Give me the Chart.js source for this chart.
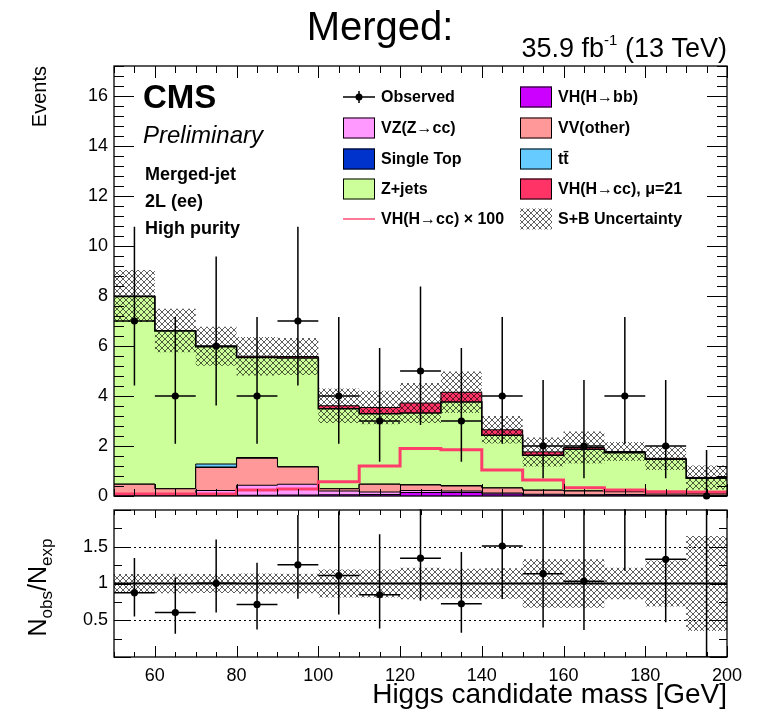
<!DOCTYPE html>
<html>
<head>
<meta charset="utf-8">
<script src="https://cdn.jsdelivr.net/npm/chart.js@4.4.0/dist/chart.umd.min.js"></script>
<style>
  html, body { margin: 0; padding: 0; background: #fff; }
  #wrap { position: relative; width: 764px; height: 712px; }
  #wrap canvas { position: absolute; left: 0; }
  #mainCanvas { top: 0; }
  #ratioCanvas { top: 503px; }
</style>
</head>
<body>
<div id="wrap">
  <canvas id="mainCanvas" width="764" height="503"></canvas>
  <canvas id="ratioCanvas" width="764" height="209"></canvas>
</div>
<script>
// Higgs candidate mass bins [GeV]
const binEdges = [50, 60, 70, 80, 90, 100, 110, 120, 130, 140, 150, 160, 170, 180, 190, 200];

// data, with asymmetric Poisson errors
const observed = [7, 4, 6, 4, 7, 4, 3, 5, 3, 4, 2, 2, 4, 2, 0];
const obsErrLo = [2.58, 1.91, 2.38, 1.91, 2.58, 1.91, 1.63, 2.16, 1.63, 1.91, 1.29, 1.29, 1.91, 1.29, 0];
const obsErrHi = [3.77, 3.16, 3.58, 3.16, 3.77, 3.16, 2.92, 3.38, 2.92, 3.16, 2.64, 2.64, 3.16, 2.64, 1.84];

// backgrounds, bottom of the stack first
const vhbb      = [0.01, 0.01, 0.02, 0.03, 0.04, 0.05, 0.06, 0.14, 0.14, 0.08, 0.04, 0.03, 0.04, 0.03, 0.01];
const vzcc      = [0.05, 0.04, 0.20, 0.40, 0.43, 0.15, 0.10, 0.08, 0.06, 0.04, 0.03, 0.02, 0.02, 0.01, 0.01];
const vvOther   = [0.41, 0.24, 0.92, 1.08, 0.69, 0.09, 0.31, 0.22, 0.20, 0.20, 0.16, 0.15, 0.11, 0.08, 0.06];
const singleTop = [0, 0, 0.02, 0.01, 0, 0, 0, 0, 0, 0, 0, 0, 0, 0, 0];
const ttbar     = [0, 0, 0.12, 0.02, 0.01, 0, 0, 0.01, 0.02, 0, 0, 0, 0, 0, 0];
const zjets     = [7.51, 6.31, 4.69, 4.00, 4.35, 3.20, 2.82, 2.87, 3.34, 2.11, 1.40, 1.67, 1.56, 1.35, 0.63];

// SM VH(H->cc) yield, shown scaled
const vhccSM = [0.0008, 0.0008, 0.0008, 0.0024, 0.0028, 0.0057, 0.012, 0.019, 0.0185, 0.0104, 0.0064, 0.0033, 0.0024, 0.0017, 0.0016];
const muSignal = 21;
const lineScale = 100;

// total S+B uncertainty per bin
const sbUnc = [1.04, 0.87, 0.78, 0.77, 0.74, 0.69, 0.67, 0.80, 0.83, 0.55, 0.58, 0.64, 0.38, 0.47, 0.48];

// axis labels
const yTicksMain = [0, 2, 4, 6, 8, 10, 12, 14, 16];
const yTicksRatio = [0.5, 1, 1.5];
const xTicks = [60, 80, 100, 120, 140, 160, 180, 200];

const FONT = '"Liberation Sans", Arial, Helvetica, sans-serif';

const COLORS = {
  vhbb: '#cc00ff',
  vzcc: '#ff99ff',
  vv: '#ff9999',
  st: '#0033cc',
  tt: '#66ccff',
  zj: '#ccff99',
  sig: '#ff3366',
  sigLine: '#ff3d6a'
};

function makeHatch() {
  const c = document.createElement('canvas');
  c.width = 6; c.height = 6;
  const g = c.getContext('2d');
  g.strokeStyle = 'rgba(0,0,0,0.75)';
  g.lineWidth = 0.85;
  g.beginPath();
  g.moveTo(-1, -1); g.lineTo(7, 7);
  g.moveTo(7, -1); g.lineTo(-1, 7);
  g.stroke();
  return g.createPattern(c, 'repeat');
}
const hatch = makeHatch();

// histogram outline: one point per lower bin edge, closed at the last edge
function stepPoints(vals) {
  const pts = vals.map((v, i) => ({ x: binEdges[i], y: v }));
  pts.push({ x: binEdges[vals.length], y: vals[vals.length - 1] });
  return pts;
}
function centers(vals) {
  return vals.map((v, i) => ({ x: (binEdges[i] + binEdges[i + 1]) / 2, y: v }));
}

const signal21 = vhccSM.map(v => v * muSignal);
const signal100 = vhccSM.map(v => v * lineScale);

const stackDefs = [
  { vals: vhbb, color: COLORS.vhbb },
  { vals: vzcc, color: COLORS.vzcc },
  { vals: vvOther, color: COLORS.vv },
  { vals: singleTop, color: COLORS.st },
  { vals: ttbar, color: COLORS.tt },
  { vals: zjets, color: COLORS.zj },
  { vals: signal21, color: COLORS.sig }
];

let running = new Array(binEdges.length - 1).fill(0);
const stackSets = stackDefs.map((d, k) => {
  running = running.map((r, i) => r + d.vals[i]);
  return {
    type: 'line',
    data: stepPoints(running),
    stepped: true,
    borderColor: '#000',
    borderWidth: k === stackDefs.length - 2 ? 1.6 : 1,
    backgroundColor: d.color,
    fill: k === 0 ? 'origin' : '-1',
    pointRadius: 0,
    order: 10
  };
});
const total = running.slice();

const bandLo = total.map((t, i) => t - sbUnc[i]);
const bandHi = total.map((t, i) => t + sbUnc[i]);
const ratioObs = observed.map((o, i) => o / total[i]);
const ratioLo = obsErrLo.map((e, i) => e / total[i]);
const ratioHi = obsErrHi.map((e, i) => e / total[i]);
const ratioBandLo = total.map((t, i) => 1 - sbUnc[i] / t);
const ratioBandHi = total.map((t, i) => 1 + sbUnc[i] / t);

// ROOT-like frame with inward ticks on all four sides
const rootFrame = {
  id: 'rootFrame',
  afterDraw(chart, args, o) {
    const { ctx, chartArea: a, scales: { x, y } } = chart;
    ctx.save();
    ctx.strokeStyle = '#000';
    ctx.lineWidth = 1;
    ctx.beginPath();
    for (let k = 0; ; k++) {
      const v = x.min + k * o.xMinor;
      if (v > x.max + 1e-9) break;
      const px = Math.round(x.getPixelForValue(v)) + 0.5;
      const major = Math.abs(v / o.xMajor - Math.round(v / o.xMajor)) < 1e-6;
      const lb = major ? o.xMajLen : o.xMinLen;
      const lt = major ? o.xMajLenTop : o.xMinLen;
      ctx.moveTo(px, a.bottom); ctx.lineTo(px, a.bottom - lb);
      ctx.moveTo(px, a.top); ctx.lineTo(px, a.top + lt);
    }
    for (let k = 0; ; k++) {
      const v = y.min + k * o.yMinor;
      if (v > y.max + 1e-9) break;
      const py = Math.round(y.getPixelForValue(v)) + 0.5;
      const major = k % o.yPerMajor === 0;
      const len = major ? o.yMajLen : o.yMinLen;
      ctx.moveTo(a.left, py); ctx.lineTo(a.left + len, py);
      ctx.moveTo(a.right, py); ctx.lineTo(a.right - len, py);
    }
    ctx.stroke();
    ctx.lineWidth = 1.3;
    ctx.strokeRect(a.left, a.top, a.right - a.left, a.bottom - a.top);
    ctx.restore();
  }
};

// vertical Poisson bars and horizontal bin-width bars
const errorBars = {
  id: 'errorBars',
  afterDatasetsDraw(chart) {
    const { ctx, chartArea: a, scales: { x, y } } = chart;
    chart.data.datasets.forEach(ds => {
      if (!ds.errHi) return;
      ctx.save();
      ctx.beginPath();
      ctx.rect(a.left, a.top - 1, a.right - a.left, a.bottom - a.top + 1);
      ctx.clip();
      ctx.strokeStyle = '#000';
      ctx.lineWidth = 1.5;
      ds.data.forEach((p, j) => {
        const px = x.getPixelForValue(p.x);
        const py = y.getPixelForValue(p.y);
        ctx.beginPath();
        ctx.moveTo(px, y.getPixelForValue(p.y - ds.errLo[j]));
        ctx.lineTo(px, y.getPixelForValue(p.y + ds.errHi[j]));
        ctx.moveTo(x.getPixelForValue(binEdges[j]), py);
        ctx.lineTo(x.getPixelForValue(binEdges[j + 1]), py);
        ctx.stroke();
      });
      ctx.restore();
    });
  }
};

// reference lines of the ratio pad
const ratioLines = {
  id: 'ratioLines',
  beforeDatasetsDraw(chart) {
    const { ctx, chartArea: a, scales: { y } } = chart;
    ctx.save();
    ctx.strokeStyle = '#000';
    ctx.lineWidth = 1;
    ctx.setLineDash([2, 3]);
    [0.5, 1.5].forEach(v => {
      const py = Math.round(y.getPixelForValue(v)) + 0.5;
      ctx.beginPath(); ctx.moveTo(a.left, py); ctx.lineTo(a.right, py); ctx.stroke();
    });
    ctx.restore();
  },
  afterDatasetsDraw(chart) {
    const { ctx, chartArea: a, scales: { y } } = chart;
    const py = y.getPixelForValue(1);
    ctx.save();
    ctx.strokeStyle = '#000';
    ctx.lineWidth = 2;
    ctx.beginPath(); ctx.moveTo(a.left, py); ctx.lineTo(a.right, py); ctx.stroke();
    ctx.restore();
  }
};

function drawBox(ctx, x, y, w, h, fill) {
  ctx.fillStyle = fill;
  ctx.fillRect(x, y, w, h);
  ctx.strokeStyle = '#000';
  ctx.lineWidth = 1;
  ctx.strokeRect(x + 0.5, y + 0.5, w - 1, h - 1);
}

// labels, CMS tag and the two-column legend
const mainDecor = {
  id: 'mainDecor',
  afterDraw(chart) {
    const ctx = chart.ctx;
    ctx.save();
    ctx.fillStyle = '#000';
    ctx.textBaseline = 'alphabetic';

    ctx.textAlign = 'center';
    ctx.font = `40px ${FONT}`;
    ctx.fillText('Merged:', 380, 40);

    // luminosity label, right aligned to the frame
    const big = `27px ${FONT}`, sup = `15px ${FONT}`;
    ctx.font = big;
    const t1 = '35.9 fb', t3 = ' (13 TeV)';
    const w1 = ctx.measureText(t1).width, w3 = ctx.measureText(t3).width;
    ctx.font = sup;
    const w2 = ctx.measureText('-1').width;
    let x0 = 727 - (w1 + w2 + w3);
    ctx.textAlign = 'left';
    ctx.font = big; ctx.fillText(t1, x0, 57);
    ctx.font = sup; ctx.fillText('-1', x0 + w1, 45);
    ctx.font = big; ctx.fillText(t3, x0 + w1 + w2, 57);

    ctx.font = `bold 33px ${FONT}`;
    ctx.fillText('CMS', 143, 108);
    ctx.font = `italic 24px ${FONT}`;
    ctx.fillText('Preliminary', 143, 143);
    ctx.font = `bold 18px ${FONT}`;
    ctx.fillText('Merged-jet', 145, 180);
    ctx.fillText('2L (ee)', 145, 207);
    ctx.fillText('High purity', 145, 234);

    // legend
    const rows = [97, 128, 159, 189, 219];
    const c1 = 343, c2 = 520, bw = 32, bh = 21, tx = 38;
    ctx.font = `bold 16px ${FONT}`;
    ctx.textBaseline = 'middle';

    // observed marker
    ctx.strokeStyle = '#000';
    ctx.lineWidth = 1.5;
    ctx.beginPath();
    ctx.moveTo(c1, rows[0]); ctx.lineTo(c1 + bw, rows[0]);
    ctx.moveTo(c1 + bw / 2, rows[0] - 6); ctx.lineTo(c1 + bw / 2, rows[0] + 6);
    ctx.stroke();
    ctx.beginPath(); ctx.arc(c1 + bw / 2, rows[0], 3.5, 0, Math.PI * 2); ctx.fill();
    ctx.fillText('Observed', c1 + tx, rows[0] + 1);

    const col1 = [[COLORS.vzcc, 'VZ(Z\u2192cc)'], [COLORS.st, 'Single Top'], [COLORS.zj, 'Z+jets']];
    col1.forEach(([c, t], i) => {
      drawBox(ctx, c1, rows[i + 1] - bh / 2, bw, bh, c);
      ctx.fillStyle = '#000';
      ctx.fillText(t, c1 + tx, rows[i + 1] + 1);
    });
    ctx.strokeStyle = '#ff7a99';
    ctx.lineWidth = 2;
    ctx.beginPath(); ctx.moveTo(c1, rows[4]); ctx.lineTo(c1 + bw, rows[4]); ctx.stroke();
    ctx.fillStyle = '#000';
    ctx.fillText('VH(H\u2192cc) \u00d7 100', c1 + tx, rows[4] + 1);

    const col2 = [[COLORS.vhbb, 'VH(H\u2192bb)'], [COLORS.vv, 'VV(other)'], [COLORS.tt, 't\u0074\u0304'], [COLORS.sig, 'VH(H\u2192cc), \u03bc=21']];
    col2.forEach(([c, t], i) => {
      drawBox(ctx, c2, rows[i] - bh / 2, bw, bh, c);
      ctx.fillStyle = '#000';
      ctx.fillText(t, c2 + tx, rows[i] + 1);
    });
    ctx.fillStyle = hatch;
    ctx.fillRect(c2, rows[4] - bh / 2, bw, bh);
    ctx.fillStyle = '#000';
    ctx.fillText('S+B Uncertainty', c2 + tx, rows[4] + 1);
    ctx.restore();
  }
};

const ratioDecor = {
  id: 'ratioDecor',
  afterDraw(chart) {
    const ctx = chart.ctx;
    const a = chart.chartArea;
    ctx.save();
    ctx.fillStyle = '#000';
    ctx.translate(46, (a.top + a.bottom) / 2 + 4);
    ctx.rotate(-Math.PI / 2);
    const big = `25px ${FONT}`, sub = `17px ${FONT}`;
    const parts = [['N', big, 0], ['obs', sub, 6], ['/N', big, 0], ['exp', sub, 6]];
    let w = 0;
    parts.forEach(p => { ctx.font = p[1]; w += ctx.measureText(p[0]).width; });
    let xx = -w / 2;
    ctx.textBaseline = 'alphabetic';
    parts.forEach(p => {
      ctx.font = p[1];
      ctx.fillText(p[0], xx, p[2]);
      xx += ctx.measureText(p[0]).width;
    });
    ctx.restore();
  }
};

const tickFont = { family: FONT, size: 18 };

// vertical axes: fixed width, and no extra room kept for the end labels
function fixVertical(s) {
  s.width = 114;
  s.paddingTop = 0;
  s.paddingBottom = 0;
}

new Chart(document.getElementById('mainCanvas'), {
  data: {
    datasets: [
      ...stackSets,
      {
        type: 'line', data: stepPoints(signal100), stepped: true,
        borderColor: COLORS.sigLine, borderWidth: 3, fill: false, pointRadius: 0, order: 5
      },
      {
        type: 'line', data: stepPoints(bandLo), stepped: true,
        borderWidth: 0, fill: false, pointRadius: 0, order: 2
      },
      {
        type: 'line', data: stepPoints(bandHi), stepped: true,
        borderWidth: 0, backgroundColor: hatch, fill: { target: stackSets.length + 1 }, pointRadius: 0, order: 1
      },
      {
        type: 'line', data: centers(observed), showLine: false,
        pointRadius: 3.6, pointBackgroundColor: '#000', pointBorderWidth: 0,
        errLo: obsErrLo, errHi: obsErrHi, clip: false, order: 0
      }
    ]
  },
  options: {
    responsive: false,
    animation: false,
    layout: { padding: { top: 66, right: 37, bottom: 7, left: 0 } },
    plugins: { legend: { display: false }, tooltip: { enabled: false }, rootFrame: {
      xMinor: 5, xMajor: 20, xMajLen: 12, xMajLenTop: 12, xMinLen: 7,
      yMinor: 0.4, yPerMajor: 5, yMajLen: 20, yMinLen: 10
    } },
    scales: {
      x: { type: 'linear', min: 50, max: 200, display: false },
      y: {
        type: 'linear', min: 0, max: 17.2,
        grid: { display: false, drawTicks: false },
        border: { display: false },
        afterBuildTicks: s => { s.ticks = yTicksMain.map(v => ({ value: v })); },
        ticks: { padding: 6, font: tickFont, color: '#000', callback: v => String(v) },
        title: { display: true, text: 'Events', align: 'end', color: '#000', font: { family: FONT, size: 20 }, padding: { top: 28 } },
        afterFit: fixVertical
      }
    }
  },
  plugins: [errorBars, rootFrame, mainDecor]
});

new Chart(document.getElementById('ratioCanvas'), {
  data: {
    datasets: [
      {
        type: 'line', data: stepPoints(ratioBandLo), stepped: true,
        borderWidth: 0, fill: false, pointRadius: 0, order: 2
      },
      {
        type: 'line', data: stepPoints(ratioBandHi), stepped: true,
        borderWidth: 0, backgroundColor: hatch, fill: { target: 0 }, pointRadius: 0, order: 1
      },
      {
        type: 'line', data: centers(ratioObs), showLine: false,
        pointRadius: c => (c.raw && c.raw.y === 0 ? 0 : 3.6), pointBackgroundColor: '#000', pointBorderWidth: 0,
        errLo: ratioLo, errHi: ratioHi, clip: 0, order: 0
      }
    ]
  },
  options: {
    responsive: false,
    animation: false,
    layout: { padding: { top: 7, right: 37, bottom: 0, left: 0 } },
    plugins: { legend: { display: false }, tooltip: { enabled: false }, rootFrame: {
      xMinor: 5, xMajor: 20, xMajLen: 11, xMajLenTop: 8, xMinLen: 5,
      yMinor: 0.25, yPerMajor: 2, yMajLen: 17, yMinLen: 8
    } },
    scales: {
      x: {
        type: 'linear', min: 50, max: 200,
        grid: { display: false, drawTicks: false },
        border: { display: false },
        afterBuildTicks: s => { s.ticks = xTicks.map(v => ({ value: v })); },
        ticks: { padding: 8, font: tickFont, color: '#000', maxRotation: 0, callback: v => String(v) },
        title: { display: true, text: 'Higgs candidate mass [GeV]', align: 'end', color: '#000', font: { family: FONT, size: 28 }, padding: { top: 0, bottom: 0 } },
        afterFit: s => { s.height = 55; s.paddingLeft = 0; s.paddingRight = 0; }
      },
      y: {
        type: 'linear', min: 0, max: 2,
        grid: { display: false, drawTicks: false },
        border: { display: false },
        afterBuildTicks: s => { s.ticks = yTicksRatio.map(v => ({ value: v })); },
        ticks: { padding: 6, font: tickFont, color: '#000', callback: v => String(v) },
        afterFit: fixVertical
      }
    }
  },
  plugins: [ratioLines, errorBars, rootFrame, ratioDecor]
});
</script>
</body>
</html>
